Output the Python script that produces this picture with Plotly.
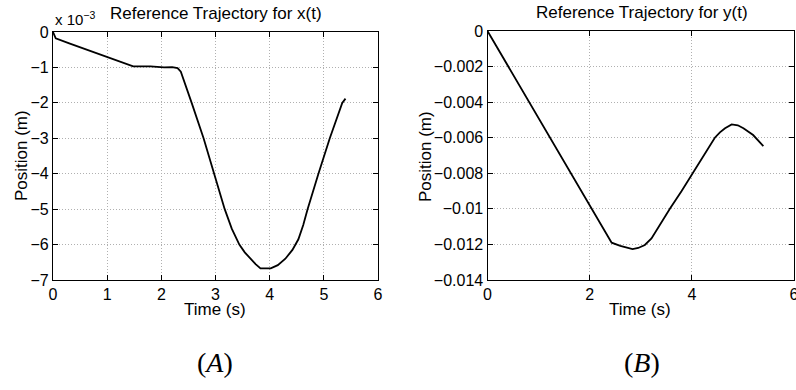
import plotly.graph_objects as go

# ---- data: reference trajectory x(t), in units of 1e-3 m ----
t_x = [0, 0.05, 0.3, 0.6, 0.9, 1.2, 1.48, 1.8, 2.05, 2.2, 2.3, 2.36, 2.42,
       2.56, 2.78, 2.98, 3.17, 3.3, 3.44, 3.54, 3.64, 3.74, 3.83, 4.02, 4.15,
       4.29, 4.42, 4.53, 4.62, 4.70, 4.9, 5.11, 5.34, 5.40]
x_pos_e3 = [0, -0.18, -0.32, -0.48, -0.65, -0.80, -0.97, -0.97, -1.0, -0.99,
            -1.02, -1.12, -1.4, -2.0, -3.0, -4.0, -5.0, -5.55, -6.0, -6.22,
            -6.40, -6.55, -6.67, -6.67, -6.58, -6.40, -6.15, -5.85, -5.45,
            -5.0, -4.0, -3.0, -2.0, -1.88]

# ---- data: reference trajectory y(t), in m ----
t_y = [0, 2.43, 2.6, 2.84, 2.95, 3.08, 3.21, 3.35, 3.57, 3.8, 4.02, 4.25,
       4.45, 4.55, 4.65, 4.78, 4.9, 5.01, 5.2, 5.4]
y_pos = [0, -0.0119, -0.01208, -0.01226, -0.0122, -0.01203, -0.01166,
         -0.0110, -0.0100, -0.0090, -0.0080, -0.0069, -0.0060, -0.0057,
         -0.00547, -0.00525, -0.0053, -0.00547, -0.00585, -0.00647]

# ---- tick labels ----
xa_ticks = [0, 1, 2, 3, 4, 5, 6]
xa_labels = ["0", "1", "2", "3", "4", "5", "6"]
ya_ticks = [0, -1, -2, -3, -4, -5, -6, -7]
ya_labels = ["0", "\u22121", "\u22122", "\u22123", "\u22124", "\u22125", "\u22126", "\u22127"]
xb_ticks = [0, 2, 4, 6]
xb_labels = ["0", "2", "4", "6"]
yb_ticks = [0, -0.002, -0.004, -0.006, -0.008, -0.01, -0.012, -0.014]
yb_labels = ["0", "\u22120.002", "\u22120.004", "\u22120.006", "\u22120.008",
             "\u22120.01", "\u22120.012", "\u22120.014"]

W, H = 796, 390
FONT = "Liberation Sans, Arial, sans-serif"

fig = go.Figure()
fig.add_trace(go.Scatter(x=t_x, y=x_pos_e3, mode="lines",
                         line=dict(color="black", width=1.8),
                         xaxis="x", yaxis="y", showlegend=False))
fig.add_trace(go.Scatter(x=t_y, y=y_pos, mode="lines",
                         line=dict(color="black", width=1.8),
                         xaxis="x2", yaxis="y2", showlegend=False))

def ax(**kw):
    base = dict(showline=True, linecolor="black", linewidth=1.2, mirror="ticks",
                ticks="inside", ticklen=5, tickcolor="black", tickwidth=1,
                showgrid=True, gridcolor="#b0b0b0", griddash="1px,2px", gridwidth=1,
                zeroline=False, automargin=False, ticklabeloverflow="allow",
                tickfont=dict(family=FONT, size=16, color="black"),
                tickmode="array")
    base.update(kw)
    return base

fig.update_layout(
    template="none",
    width=W, height=H, paper_bgcolor="white", plot_bgcolor="white",
    margin=dict(l=0, r=0, t=0, b=0, autoexpand=False),
    xaxis=ax(domain=[53 / W, 378 / W], range=[0, 6], anchor="y",
             tickvals=xa_ticks, ticktext=xa_labels),
    yaxis=ax(domain=[1 - 280 / H, 1 - 32 / H], range=[-7, 0], anchor="x",
             tickvals=ya_ticks, ticktext=ya_labels),
    xaxis2=ax(domain=[487.5 / W, 794 / W], range=[0, 6], anchor="y2",
              tickvals=xb_ticks, ticktext=xb_labels),
    yaxis2=ax(domain=[1 - 280 / H, 1 - 31 / H], range=[-0.014, 0], anchor="x2",
              tickvals=yb_ticks, ticktext=yb_labels),
)

def ann(text, x, y, size, rot=0, family=FONT, xanchor="center", yanchor="middle"):
    fig.add_annotation(text=text, x=x / W, y=1 - y / H, xref="paper", yref="paper",
                       showarrow=False, textangle=rot, xanchor=xanchor, yanchor=yanchor,
                       font=dict(family=family, size=size, color="black"))

ann("Reference Trajectory for x(t)", 216, 14, 17)
ann("Reference Trajectory for y(t)", 642, 13, 17)
ann("x 10<sup>\u22123</sup>", 53, 30, 15, xanchor="left", yanchor="bottom")
ann("Time (s)", 215, 309, 17)
ann("Time (s)", 640, 309, 17)
ann("Position (m)", 21, 156, 17, rot=-90)
ann("Position (m)", 425, 156, 17, rot=-90)
ann("(<i>A</i>)", 215, 362, 28, family="Liberation Serif, Times New Roman, serif")
ann("(<i>B</i>)", 642, 362, 28, family="Liberation Serif, Times New Roman, serif")

fig.write_html("out.html",
               config={"displayModeBar": False},
               post_script="document.body.style.margin='0';"
                           "document.body.style.overflow='hidden';")
